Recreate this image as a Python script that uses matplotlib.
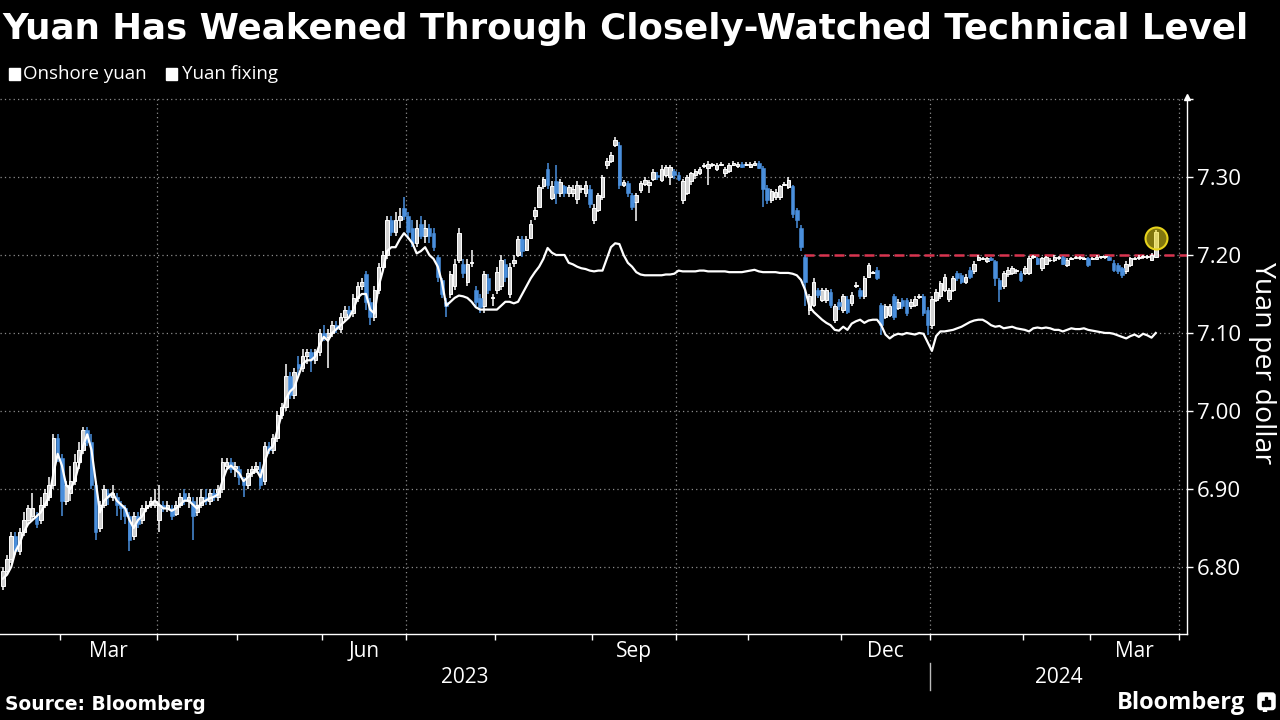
import numpy as np
import pandas as pd
import matplotlib
matplotlib.use("Agg")
import matplotlib.pyplot as plt
from matplotlib.patches import Rectangle, FancyBboxPatch

plt.rcParams['font.family'] = ['Open Sans', 'DejaVu Sans']

# --- trading calendar (weekdays minus mainland holidays) ---
START = "2023-02-09"
HOLIDAYS = ["2023-04-05", "2023-05-01", "2023-05-02", "2023-05-03",
            "2023-06-22", "2023-06-23", "2023-09-29",
            "2023-10-02", "2023-10-03", "2023-10-04", "2023-10-05", "2023-10-06",
            "2024-01-01", "2024-02-12", "2024-02-13", "2024-02-14", "2024-02-15",
            "2024-02-16"]

# --- onshore yuan daily candles (CNY per USD) ---
OPEN = [
    6.775, 6.795, 6.810, 6.840, 6.820, 6.845, 6.860, 6.865, 6.865, 6.860,
    6.880, 6.890, 6.905, 6.965, 6.940, 6.885, 6.895, 6.910, 6.935, 6.950,
    6.975, 6.960, 6.905, 6.850, 6.880, 6.895, 6.890, 6.890, 6.880, 6.875,
    6.865, 6.840, 6.865, 6.860, 6.875, 6.880, 6.880, 6.860, 6.880, 6.875,
    6.875, 6.868, 6.880, 6.895, 6.885, 6.885, 6.870, 6.880, 6.890, 6.885,
    6.895, 6.890, 6.900, 6.930, 6.935, 6.925, 6.925, 6.910, 6.905, 6.920,
    6.925, 6.925, 6.910, 6.955, 6.950, 6.965, 6.995, 7.005, 7.045, 7.020,
    7.060, 7.055, 7.070, 7.075, 7.065, 7.075, 7.100, 7.095, 7.100, 7.110,
    7.105, 7.120, 7.130, 7.125, 7.145, 7.160, 7.175, 7.140, 7.120, 7.155,
    7.185, 7.200, 7.245, 7.230, 7.245, 7.260, 7.250, 7.235, 7.215, 7.240,
    7.225, 7.235, 7.228, 7.198, 7.168, 7.140, 7.150, 7.160, 7.194, 7.189,
    7.165, 7.190, 7.155, 7.145, 7.134, 7.170, 7.145, 7.155, 7.160, 7.189,
    7.150, 7.190, 7.200, 7.220, 7.207, 7.222, 7.250, 7.262, 7.288, 7.310,
    7.273, 7.295, 7.280, 7.288, 7.280, 7.280, 7.272, 7.285, 7.280, 7.285,
    7.245, 7.258, 7.275, 7.315, 7.320, 7.341, 7.341, 7.290, 7.292, 7.277,
    7.268, 7.283, 7.291, 7.290, 7.298, 7.303, 7.296, 7.302, 7.300, 7.308,
    7.303, 7.270, 7.280, 7.295, 7.302, 7.305, 7.314, 7.312, 7.315, 7.310,
    7.316, 7.305, 7.308, 7.316, 7.314, 7.317, 7.316, 7.313, 7.316, 7.318,
    7.312, 7.286, 7.270, 7.274, 7.274, 7.290, 7.287, 7.288, 7.258, 7.235,
    7.198, 7.130, 7.136, 7.155, 7.142, 7.142, 7.153, 7.117, 7.140, 7.130,
    7.144, 7.138, 7.160, 7.155, 7.147, 7.172, 7.177, 7.181, 7.136, 7.121,
    7.123, 7.147, 7.132, 7.142, 7.142, 7.134, 7.136, 7.146, 7.147, 7.130,
    7.110, 7.142, 7.147, 7.155, 7.144, 7.155, 7.177, 7.174, 7.166, 7.181,
    7.179, 7.194, 7.195, 7.192, 7.196, 7.192, 7.168, 7.160, 7.175, 7.177,
    7.179, 7.177, 7.177, 7.177, 7.197, 7.196, 7.183, 7.189, 7.193, 7.193,
    7.196, 7.197, 7.187, 7.195, 7.196, 7.196, 7.195, 7.196, 7.195, 7.195,
    7.197, 7.197, 7.197, 7.190, 7.187, 7.183, 7.179, 7.187, 7.195, 7.196,
    7.197, 7.197, 7.194, 7.198,
]
HIGH = [
    6.800, 6.815, 6.845, 6.845, 6.850, 6.870, 6.880, 6.895, 6.870, 6.890,
    6.900, 6.915, 6.970, 6.970, 6.945, 6.910, 6.930, 6.945, 6.960, 6.980,
    6.980, 6.970, 6.910, 6.885, 6.905, 6.900, 6.905, 6.895, 6.885, 6.880,
    6.870, 6.870, 6.870, 6.880, 6.885, 6.890, 6.900, 6.905, 6.885, 6.885,
    6.880, 6.885, 6.895, 6.900, 6.895, 6.890, 6.890, 6.900, 6.900, 6.900,
    6.900, 6.905, 6.940, 6.940, 6.940, 6.935, 6.930, 6.915, 6.925, 6.930,
    6.935, 6.935, 6.960, 6.960, 6.970, 7.000, 7.010, 7.060, 7.050, 7.055,
    7.070, 7.080, 7.080, 7.080, 7.080, 7.105, 7.110, 7.105, 7.115, 7.115,
    7.125, 7.135, 7.135, 7.150, 7.165, 7.170, 7.180, 7.145, 7.160, 7.190,
    7.205, 7.250, 7.250, 7.255, 7.260, 7.275, 7.255, 7.245, 7.245, 7.250,
    7.245, 7.240, 7.235, 7.200, 7.170, 7.145, 7.180, 7.195, 7.235, 7.195,
    7.195, 7.206, 7.160, 7.150, 7.180, 7.175, 7.150, 7.185, 7.200, 7.195,
    7.190, 7.200, 7.225, 7.225, 7.225, 7.245, 7.262, 7.290, 7.300, 7.318,
    7.295, 7.315, 7.298, 7.290, 7.290, 7.290, 7.295, 7.290, 7.295, 7.290,
    7.265, 7.280, 7.303, 7.324, 7.332, 7.351, 7.345, 7.296, 7.295, 7.280,
    7.280, 7.295, 7.300, 7.296, 7.310, 7.306, 7.315, 7.316, 7.316, 7.310,
    7.306, 7.298, 7.302, 7.307, 7.310, 7.313, 7.318, 7.320, 7.318, 7.318,
    7.319, 7.313, 7.318, 7.320, 7.319, 7.319, 7.319, 7.319, 7.320, 7.320,
    7.314, 7.290, 7.285, 7.284, 7.290, 7.293, 7.300, 7.290, 7.260, 7.238,
    7.200, 7.150, 7.170, 7.158, 7.158, 7.158, 7.156, 7.137, 7.143, 7.150,
    7.148, 7.152, 7.165, 7.158, 7.173, 7.190, 7.180, 7.184, 7.138, 7.137,
    7.137, 7.150, 7.143, 7.145, 7.145, 7.143, 7.147, 7.150, 7.150, 7.133,
    7.147, 7.156, 7.167, 7.175, 7.158, 7.173, 7.179, 7.177, 7.175, 7.184,
    7.192, 7.200, 7.198, 7.198, 7.198, 7.194, 7.170, 7.180, 7.184, 7.186,
    7.182, 7.180, 7.186, 7.199, 7.200, 7.198, 7.198, 7.199, 7.196, 7.200,
    7.199, 7.199, 7.196, 7.198, 7.199, 7.199, 7.198, 7.198, 7.198, 7.200,
    7.199, 7.199, 7.199, 7.193, 7.190, 7.185, 7.192, 7.198, 7.198, 7.200,
    7.200, 7.200, 7.202, 7.232,
]
LOW = [
    6.770, 6.790, 6.805, 6.815, 6.815, 6.840, 6.855, 6.860, 6.850, 6.855,
    6.875, 6.885, 6.900, 6.935, 6.865, 6.880, 6.885, 6.905, 6.925, 6.945,
    6.955, 6.900, 6.835, 6.845, 6.875, 6.880, 6.885, 6.865, 6.860, 6.855,
    6.820, 6.835, 6.850, 6.855, 6.870, 6.875, 6.875, 6.845, 6.870, 6.870,
    6.860, 6.865, 6.875, 6.880, 6.875, 6.835, 6.865, 6.875, 6.880, 6.880,
    6.885, 6.885, 6.895, 6.925, 6.920, 6.915, 6.905, 6.890, 6.900, 6.915,
    6.920, 6.900, 6.905, 6.945, 6.945, 6.960, 6.990, 7.000, 7.015, 7.015,
    7.045, 7.050, 7.060, 7.050, 7.060, 7.070, 7.090, 7.055, 7.095, 7.100,
    7.100, 7.115, 7.120, 7.120, 7.140, 7.155, 7.130, 7.110, 7.115, 7.150,
    7.180, 7.195, 7.225, 7.225, 7.235, 7.245, 7.220, 7.210, 7.210, 7.220,
    7.215, 7.215, 7.205, 7.165, 7.145, 7.120, 7.145, 7.155, 7.190, 7.170,
    7.160, 7.185, 7.135, 7.125, 7.125, 7.150, 7.135, 7.150, 7.155, 7.165,
    7.145, 7.185, 7.198, 7.198, 7.205, 7.220, 7.245, 7.260, 7.285, 7.285,
    7.270, 7.265, 7.275, 7.275, 7.275, 7.275, 7.265, 7.280, 7.275, 7.260,
    7.240, 7.255, 7.270, 7.310, 7.318, 7.338, 7.285, 7.287, 7.275, 7.258,
    7.243, 7.280, 7.288, 7.280, 7.295, 7.296, 7.293, 7.300, 7.290, 7.298,
    7.295, 7.265, 7.277, 7.290, 7.298, 7.303, 7.312, 7.290, 7.313, 7.308,
    7.314, 7.300, 7.305, 7.314, 7.312, 7.311, 7.314, 7.311, 7.314, 7.310,
    7.262, 7.265, 7.267, 7.270, 7.270, 7.288, 7.285, 7.248, 7.235, 7.205,
    7.135, 7.123, 7.133, 7.145, 7.140, 7.138, 7.132, 7.113, 7.130, 7.125,
    7.124, 7.135, 7.158, 7.144, 7.144, 7.170, 7.175, 7.168, 7.097, 7.118,
    7.120, 7.117, 7.129, 7.131, 7.122, 7.131, 7.133, 7.144, 7.122, 7.098,
    7.105, 7.140, 7.144, 7.152, 7.140, 7.152, 7.167, 7.163, 7.163, 7.169,
    7.176, 7.192, 7.194, 7.190, 7.192, 7.160, 7.140, 7.157, 7.172, 7.174,
    7.176, 7.165, 7.174, 7.174, 7.195, 7.187, 7.180, 7.187, 7.191, 7.191,
    7.194, 7.187, 7.185, 7.193, 7.195, 7.194, 7.193, 7.185, 7.193, 7.193,
    7.195, 7.195, 7.192, 7.178, 7.175, 7.170, 7.176, 7.185, 7.193, 7.194,
    7.195, 7.195, 7.192, 7.196,
]
CLOSE = [
    6.795, 6.810, 6.840, 6.820, 6.845, 6.860, 6.875, 6.875, 6.855, 6.880,
    6.895, 6.905, 6.965, 6.940, 6.885, 6.905, 6.910, 6.935, 6.950, 6.975,
    6.960, 6.905, 6.845, 6.880, 6.900, 6.890, 6.895, 6.880, 6.875, 6.865,
    6.835, 6.865, 6.855, 6.875, 6.880, 6.885, 6.885, 6.880, 6.875, 6.880,
    6.865, 6.880, 6.890, 6.885, 6.890, 6.865, 6.880, 6.890, 6.885, 6.895,
    6.890, 6.900, 6.935, 6.935, 6.925, 6.930, 6.915, 6.905, 6.920, 6.925,
    6.930, 6.905, 6.955, 6.950, 6.965, 6.995, 7.005, 7.045, 7.020, 7.050,
    7.055, 7.070, 7.075, 7.065, 7.075, 7.100, 7.095, 7.100, 7.110, 7.105,
    7.120, 7.130, 7.125, 7.145, 7.160, 7.165, 7.140, 7.120, 7.155, 7.185,
    7.200, 7.245, 7.230, 7.245, 7.250, 7.250, 7.230, 7.215, 7.235, 7.225,
    7.235, 7.225, 7.210, 7.172, 7.150, 7.135, 7.175, 7.189, 7.228, 7.177,
    7.189, 7.191, 7.140, 7.133, 7.176, 7.155, 7.146, 7.178, 7.193, 7.172,
    7.185, 7.193, 7.220, 7.205, 7.220, 7.240, 7.258, 7.287, 7.298, 7.290,
    7.288, 7.280, 7.293, 7.280, 7.287, 7.285, 7.290, 7.286, 7.290, 7.265,
    7.260, 7.277, 7.300, 7.320, 7.328, 7.347, 7.290, 7.293, 7.280, 7.262,
    7.277, 7.292, 7.296, 7.293, 7.306, 7.300, 7.310, 7.313, 7.313, 7.302,
    7.298, 7.295, 7.300, 7.305, 7.308, 7.310, 7.316, 7.317, 7.316, 7.315,
    7.317, 7.310, 7.316, 7.318, 7.317, 7.313, 7.317, 7.317, 7.318, 7.312,
    7.285, 7.270, 7.282, 7.281, 7.288, 7.291, 7.296, 7.252, 7.245, 7.210,
    7.166, 7.147, 7.166, 7.149, 7.155, 7.155, 7.136, 7.134, 7.134, 7.147,
    7.127, 7.149, 7.162, 7.147, 7.170, 7.187, 7.178, 7.170, 7.110, 7.134,
    7.134, 7.121, 7.140, 7.134, 7.125, 7.140, 7.144, 7.147, 7.125, 7.110,
    7.144, 7.153, 7.164, 7.172, 7.155, 7.170, 7.170, 7.166, 7.172, 7.172,
    7.189, 7.198, 7.196, 7.196, 7.194, 7.170, 7.157, 7.177, 7.181, 7.183,
    7.180, 7.168, 7.183, 7.196, 7.198, 7.189, 7.196, 7.197, 7.194, 7.198,
    7.197, 7.189, 7.193, 7.196, 7.197, 7.197, 7.196, 7.187, 7.196, 7.198,
    7.198, 7.197, 7.194, 7.181, 7.179, 7.174, 7.189, 7.196, 7.196, 7.198,
    7.198, 7.198, 7.200, 7.230,
]

# --- daily yuan fixing ---
FIXING = [
    6.785, 6.790, 6.800, 6.820, 6.830, 6.845, 6.855, 6.860, 6.865, 6.870,
    6.880, 6.890, 6.920, 6.945, 6.930, 6.905, 6.900, 6.910, 6.930, 6.955,
    6.970, 6.950, 6.910, 6.870, 6.885, 6.890, 6.895, 6.885, 6.880, 6.875,
    6.860, 6.850, 6.860, 6.865, 6.875, 6.880, 6.885, 6.880, 6.875, 6.875,
    6.872, 6.875, 6.880, 6.885, 6.885, 6.880, 6.875, 6.882, 6.885, 6.888,
    6.890, 6.893, 6.910, 6.925, 6.930, 6.925, 6.920, 6.910, 6.915, 6.920,
    6.925, 6.915, 6.935, 6.950, 6.955, 6.975, 6.995, 7.015, 7.025, 7.030,
    7.045, 7.060, 7.065, 7.065, 7.070, 7.085, 7.095, 7.090, 7.100, 7.105,
    7.110, 7.115, 7.120, 7.130, 7.145, 7.150, 7.150, 7.130, 7.125, 7.160,
    7.180, 7.205, 7.210, 7.210, 7.220, 7.228, 7.222, 7.215, 7.202, 7.205,
    7.210, 7.200, 7.195, 7.185, 7.165, 7.135, 7.140, 7.145, 7.148, 7.147,
    7.145, 7.140, 7.133, 7.130, 7.130, 7.130, 7.130, 7.130, 7.135, 7.140,
    7.140, 7.138, 7.140, 7.150, 7.160, 7.170, 7.178, 7.185, 7.195, 7.209,
    7.203, 7.200, 7.200, 7.200, 7.190, 7.188, 7.185, 7.183, 7.182, 7.180,
    7.179, 7.180, 7.180, 7.195, 7.210, 7.215, 7.214, 7.200, 7.190, 7.185,
    7.178, 7.175, 7.174, 7.174, 7.174, 7.174, 7.174, 7.175, 7.175, 7.176,
    7.180, 7.179, 7.179, 7.179, 7.179, 7.180, 7.180, 7.179, 7.179, 7.179,
    7.179, 7.179, 7.178, 7.178, 7.178, 7.178, 7.179, 7.180, 7.181, 7.179,
    7.178, 7.178, 7.178, 7.178, 7.177, 7.177, 7.177, 7.176, 7.174, 7.168,
    7.155, 7.134, 7.127, 7.122, 7.117, 7.113, 7.110, 7.104, 7.103, 7.108,
    7.104, 7.112, 7.115, 7.117, 7.113, 7.116, 7.117, 7.117, 7.110, 7.098,
    7.093, 7.097, 7.099, 7.098, 7.100, 7.099, 7.098, 7.100, 7.099, 7.088,
    7.077, 7.096, 7.102, 7.102, 7.103, 7.104, 7.106, 7.108, 7.111, 7.114,
    7.116, 7.117, 7.117, 7.114, 7.110, 7.108, 7.109, 7.106, 7.107, 7.108,
    7.106, 7.105, 7.104, 7.102, 7.106, 7.107, 7.106, 7.107, 7.106, 7.104,
    7.104, 7.102, 7.104, 7.106, 7.105, 7.105, 7.106, 7.104, 7.103, 7.102,
    7.101, 7.100, 7.100, 7.099, 7.097, 7.095, 7.093, 7.096, 7.098, 7.095,
    7.099, 7.097, 7.094, 7.100,
]

LEVEL = 7.20                 # closely-watched technical level
LEVEL_FROM = "2023-11-20"    # red dashed line starts here
Y_TICKS = [6.80, 6.90, 7.00, 7.10, 7.20, 7.30, 7.40]
MONTH_LABELS = {"2023-03": "Mar", "2023-06": "Jun", "2023-09": "Sep",
                "2023-12": "Dec", "2024-03": "Mar"}

BG = "#000000"
WHITE = "#ffffff"
BLUE = "#4a8fdc"
GRID = "#8c8c8c"
RED = "#d8344f"

cal = pd.bdate_range(START, "2024-05-31", freq="C", holidays=HOLIDAYS)
n = len(CLOSE)
dates = cal[:n]

o = np.array(OPEN); h = np.array(HIGH); l = np.array(LOW); c = np.array(CLOSE)
x = np.arange(n)
up = c >= o

fig = plt.figure(figsize=(12.8, 7.2), dpi=100, facecolor=BG)
ax = fig.add_axes([0.0, 86 / 720, 1187 / 1280, 537 / 720], facecolor=BG)

x_left, x_right = -0.66, 280.4
ax.set_xlim(x_left, x_right)
ax.set_ylim(6.714, 7.4026)

# month boundaries in trading-day positions
months = pd.date_range("2023-03-01", "2024-04-01", freq="MS")
bounds = {m.strftime("%Y-%m"): cal.searchsorted(m) - 0.5 for m in months}
keys = list(bounds.keys())

# grid
for yv in Y_TICKS:
    ax.axhline(yv, color=GRID, lw=0.9, ls=(0, (1, 2.5)), zorder=1)
for k in ["2023-04", "2023-07", "2023-10", "2024-01", "2024-04"]:
    ax.axvline(bounds[k], color=GRID, lw=0.9, ls=(0, (1, 2.5)), zorder=1)

# technical level
ax.hlines(LEVEL, cal.searchsorted(pd.Timestamp(LEVEL_FROM)) - 0.3, x_right,
          color=RED, lw=1.8, linestyles=(0, (4, 2)), zorder=2)

# candles
wick_colors = [WHITE if u else BLUE for u in up]
ax.vlines(x, l, h, colors=wick_colors, lw=1.1, zorder=3)
body_lo = np.minimum(o, c)
body_h = np.maximum(np.abs(c - o), 0.0012)
ax.bar(x[up], body_h[up], bottom=body_lo[up], width=0.85,
       color="#d2d2d2", edgecolor=WHITE, lw=0.7, zorder=4)
ax.bar(x[~up], body_h[~up], bottom=body_lo[~up], width=0.85,
       color=BLUE, edgecolor=BLUE, lw=0.4, zorder=4)

# fixing
ax.plot(x, FIXING, color=WHITE, lw=1.6, zorder=5, solid_joinstyle="round")

# highlight of last session
ax.scatter([x[-1]], [h[-1] - 0.010], s=250, facecolor=(0.93, 0.85, 0.1, 0.55),
           edgecolor="#e6d21c", lw=1.5, zorder=6)

# axes styling
for side in ["left", "top"]:
    ax.spines[side].set_visible(False)
for side in ["bottom", "right"]:
    ax.spines[side].set_color(WHITE)
    ax.spines[side].set_linewidth(1.0)
ax.plot([1], [1], marker="^", ms=5, color=WHITE, transform=ax.transAxes,
        clip_on=False, zorder=7)

ax.yaxis.tick_right()
ax.set_yticks(Y_TICKS)
ax.set_yticklabels([f"{v:.2f}" for v in Y_TICKS[:-1]] + [""])
ax.tick_params(axis="y", colors=WHITE, labelsize=16, length=4, width=1, pad=3)

ax.set_xticks([bounds[k] for k in keys])
ax.set_xticklabels([])
ax.tick_params(axis="x", colors=WHITE, length=4, width=1)

xt = ax.get_xaxis_transform()
for i, k in enumerate(keys[:-1]):
    if k in MONTH_LABELS:
        mid = (bounds[k] + bounds[keys[i + 1]]) / 2
        ax.text(mid, -0.032, MONTH_LABELS[k], transform=xt, ha="center",
                va="center", color=WHITE, fontsize=15)
jan = bounds["2024-01"]
ax.text((x_left + jan) / 2, -0.081, "2023", transform=xt, ha="center",
        va="center", color=WHITE, fontsize=15)
ax.text((jan + x_right) / 2, -0.081, "2024", transform=xt, ha="center",
        va="center", color=WHITE, fontsize=15)
ax.plot([jan, jan], [-0.054, -0.104], transform=xt, color="#bbbbbb", lw=1,
        clip_on=False)

# texts
fig.text(2 / 1280, 1 - 39 / 720, "Yuan Has Weakened Through Closely-Watched Technical Level",
         color=WHITE, fontsize=25.7, fontweight="bold", va="baseline",
         family=["DejaVu Sans"])
fig.patches.append(Rectangle((9 / 1280, 1 - 80 / 720), 11 / 1280, 12 / 720,
                             transform=fig.transFigure, color=WHITE))
fig.text(23 / 1280, 1 - 74 / 720, "Onshore yuan", color=WHITE, fontsize=13.5, va="center")
fig.patches.append(Rectangle((166 / 1280, 1 - 80 / 720), 11 / 1280, 12 / 720,
                             transform=fig.transFigure, color=WHITE))
fig.text(182 / 1280, 1 - 74 / 720, "Yuan fixing", color=WHITE, fontsize=13.5, va="center")

fig.text(1262 / 1280, 1 - 363 / 720, "Yuan per dollar", color=WHITE, fontsize=20.5,
         rotation=270, ha="center", va="center")
fig.text(5 / 1280, 1 - 705 / 720, "Source: Bloomberg", color=WHITE, fontsize=13.4,
         fontweight="bold", va="center", family=["DejaVu Sans"])
fig.text(1245 / 1280, 1 - 703 / 720, "Bloomberg", color=WHITE, fontsize=17,
         fontweight="bold", va="center", ha="right")

# small logo mark
lax = fig.add_axes([1257 / 1280, 8 / 720, 19 / 1280, 20 / 720])
lax.set_xlim(0, 1); lax.set_ylim(0, 1); lax.axis("off")
lax.add_patch(FancyBboxPatch((0.05, 0.12), 0.9, 0.83, boxstyle="round,pad=0,rounding_size=0.15",
                             color=WHITE))
lax.add_patch(Rectangle((0.3, 0.0), 0.18, 0.14, color=WHITE))
for bx, bh in [(0.28, 0.25), (0.44, 0.45), (0.60, 0.32)]:
    lax.add_patch(Rectangle((bx, 0.3), 0.09, bh, color=BG))

fig.savefig("out.png", dpi=100, facecolor=BG)
